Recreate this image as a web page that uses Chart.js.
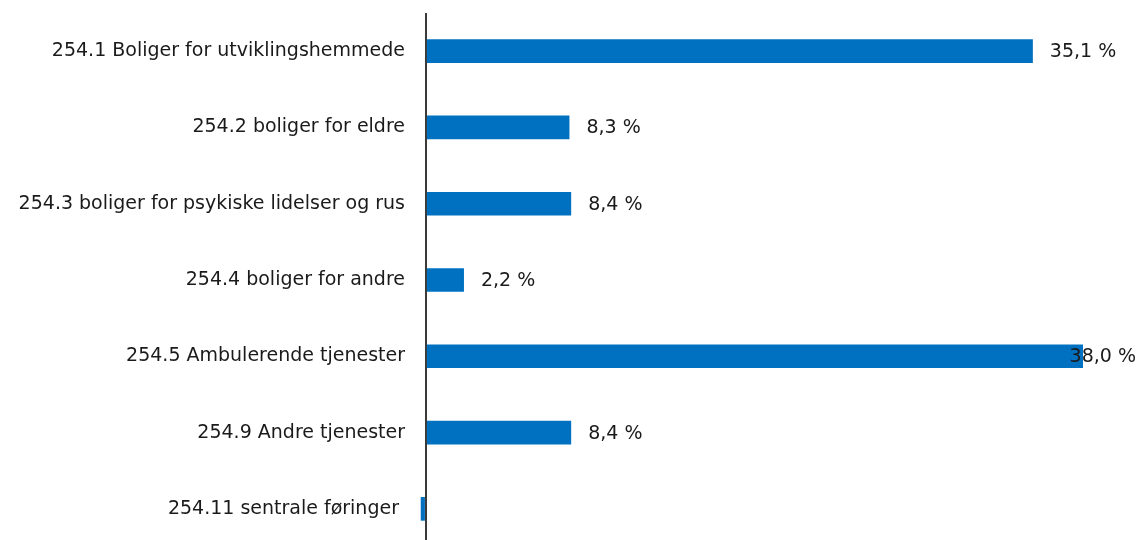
<!DOCTYPE html>
<html>
<head>
<meta charset="utf-8">
<script src="https://cdn.jsdelivr.net/npm/chart.js@4"></script>
<style>
  html, body { margin: 0; padding: 0; background: #fff; overflow: hidden; }
  #wrap { position: relative; width: 1142px; height: 548px; }
</style>
</head>
<body>
<div id="wrap"><canvas id="myChart"></canvas></div>
<script>
// kategorier og andeler (prosent)
const categories = [
    "254.1 Boliger for utviklingshemmede",
    "254.2 boliger for eldre",
    "254.3 boliger for psykiske lidelser og rus",
    "254.4 boliger for andre",
    "254.5 Ambulerende tjenester",
    "254.9 Andre tjenester",
    "254.11 sentrale føringer"
];
const shares = [35.1, 8.3, 8.4, 2.2, 38.0, 8.4, -0.3];

const barColor = "#0070C0";
const textColor = "#1a1a1a";
const fontFamily = "'DejaVu Sans', sans-serif";

// verdietiketter ved enden av stolpene
const valueLabels = {
    id: "valueLabels",
    afterDatasetsDraw(chart) {
        const ctx = chart.ctx;
        const meta = chart.getDatasetMeta(0);
        ctx.save();
        ctx.font = "19px " + fontFamily;
        ctx.fillStyle = textColor;
        ctx.textBaseline = "middle";
        ctx.textAlign = "left";
        meta.data.forEach((bar, i) => {
            const v = shares[i];
            if (v <= 0) return;
            const txt = v.toFixed(1).replace(".", ",") + " %";
            const w = ctx.measureText(txt).width;
            let x = bar.x + 17;
            if (x + w > chart.width - 6) x = chart.width - 6 - w;
            ctx.fillText(txt, x, bar.y + 1);
        });
        ctx.restore();
    }
};

new Chart(document.getElementById("myChart"), {
    type: "bar",
    data: {
        labels: categories,
        datasets: [{
            data: shares,
            backgroundColor: barColor,
            borderWidth: 0,
            categoryPercentage: 1,
            barPercentage: 0.31
        }]
    },
    options: {
        indexAxis: "y",
        responsive: true,
        maintainAspectRatio: false,
        animation: false,
        layout: { padding: { top: 13, right: 59, left: 0, bottom: 1 } },
        plugins: { legend: { display: false }, tooltip: { enabled: false } },
        scales: {
            x: {
                min: -0.4,
                max: 38,
                ticks: { display: false },
                border: { display: false },
                grid: {
                    drawTicks: false,
                    lineWidth: 2,
                    color: (c) => (c.tick && c.tick.value === 0 ? "#3a3a3a" : "rgba(0,0,0,0)")
                },
                afterBuildTicks: (axis) => { axis.ticks = [{ value: 0 }]; },
                afterFit: (axis) => { axis.height = 0; }
            },
            y: {
                grid: { display: false },
                border: { display: false },
                afterFit: (axis) => {
                    axis.width = 419;
                    axis.paddingTop = 0;
                    axis.paddingBottom = 0;
                },
                ticks: {
                    padding: 6,
                    color: textColor,
                    font: { family: fontFamily, size: 19 },
                    callback: function (val, i) {
                        // etiketten flyttes litt når stolpen er negativ
                        return shares[i] < 0 ? categories[i] + " " : categories[i];
                    }
                }
            }
        }
    },
    plugins: [valueLabels]
});
</script>
</body>
</html>
